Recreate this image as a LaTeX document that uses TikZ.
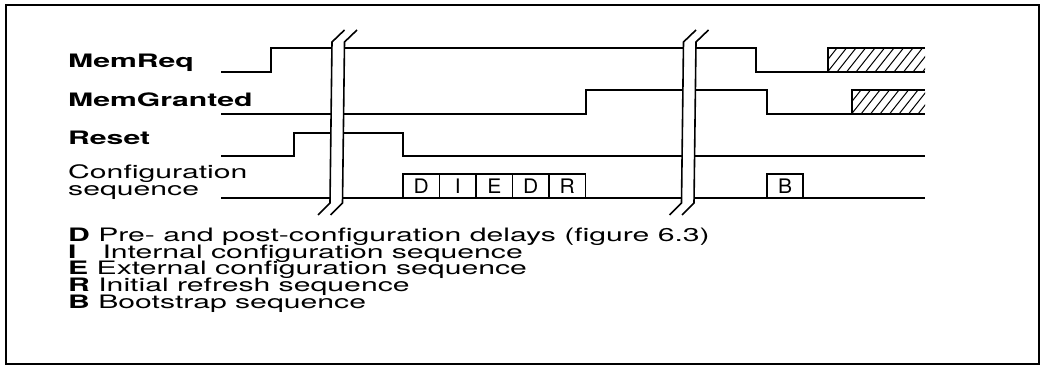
\documentclass[tikz,border=0pt]{standalone}
\usepackage{fontspec}
\setmainfont{TeX Gyre Heros}[FakeStretch=1.63]
\newfontfamily\boxfont{TeX Gyre Heros}[FakeStretch=1.05]

\begin{document}
\begin{tikzpicture}[x=1pt,y=-1pt,
  sig/.style={line width=1.6pt},
  signame/.style={font=\fontsize{18.5}{16}\selectfont\bfseries,anchor=base west,inner sep=0pt},
  plain/.style={font=\fontsize{18.5}{16}\selectfont,anchor=base west,inner sep=0pt},
  seqbox/.style={draw,line width=1.6pt,minimum width=36.5pt,minimum height=24pt,
    inner sep=0pt,font=\boxfont\fontsize{20}{16}\selectfont}]
  \useasboundingbox (0,0) rectangle (1047,366);
  \draw[line width=2.2pt] (6,5) rectangle (1039,364);

  \node[signame] (memreq) at (68,68) {MemReq};
  \node[signame] (memgnt) at (68,107) {MemGranted};
  \node[signame] (reset) at (68,145) {Reset};
  \node[plain] (cfga) at (68,179) {Configuration};
  \node[plain] (cfgb) at (68,196) {sequence};

  \draw[sig] (221,72) -| (271,48) -| (756,72) -- (925,72);
  \draw[sig] (828,72) |- (925,48);
  \draw[sig] (221,114) -| (586,90) -| (767,114) -- (925,114);
  \draw[sig] (852,114) |- (925,90);
  \draw[sig] (221,156) -| (294,133) -| (403,156) -- (925,156);
  \draw[sig] (221,198) -- (925,198);

  \foreach \lt [count=\i from 0] in {D,I,E,D,R}
    \node[seqbox] (cfg\i) at (421.25+36.5*\i,186) {\lt};
  \node[seqbox] (boot) at (785,186) {B};

  \begin{scope}
    \clip (828,48) rectangle (925,72);
    \foreach \x in {818,827.5,...,930} \draw[line width=1pt] (\x,72) -- (\x+19,48);
  \end{scope}
  \begin{scope}
    \clip (852,90) rectangle (925,114);
    \foreach \x in {842,851.5,...,930} \draw[line width=1pt] (\x,114) -- (\x+19,90);
  \end{scope}

  \foreach \bx in {332,683.5} {
    \fill[white] (\bx,42) -- (\bx-2,203) -- (\bx+10.5,203) -- (\bx+12.5,42) -- cycle;
    \draw[sig] (\bx+12.5,30) -- (\bx,42) -- (\bx-2,203) -- (\bx-14,215);
    \draw[sig] (\bx+25,30) -- (\bx+12.5,42) -- (\bx+10.5,203) -- (\bx-1.5,215);
  }

  \foreach \txt [count=\n from 0] in {{\textbf{D} Pre- and post-configuration delays (figure 6.3)},
      {\textbf{I}\hspace{26pt}Internal configuration sequence},
      {\textbf{E} External configuration sequence},
      {\textbf{R} Initial refresh sequence},
      {\textbf{B} Bootstrap sequence}}
    \node[plain] (key\n) at (68,242+16.5*\n) {\txt};
\end{tikzpicture}
\end{document}
